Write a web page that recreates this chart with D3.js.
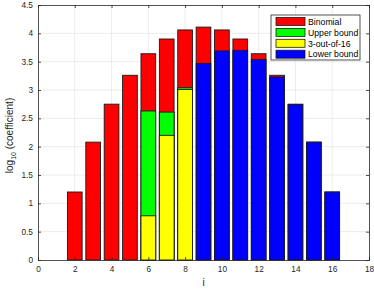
<!DOCTYPE html>
<html><head><meta charset="utf-8">
<script src="https://cdn.jsdelivr.net/npm/d3@7"></script>
<style>body{margin:0;background:#fff}svg{display:block}text{font-family:"Liberation Sans",Arial,sans-serif}</style>
</head><body>
<script>
const categories = [2,3,4,5,6,7,8,9,10,11,12,13,14,15,16];
const binomial   = [1.20,2.08,2.75,3.26,3.64,3.90,4.06,4.11,4.06,3.90,3.64,3.26,2.75,2.08,1.20];
const upperBound = [null,null,null,null,2.63,2.61,3.04,null,null,null,null,null,null,null,null];
const threeOf16  = [null,null,null,null,0.78,2.20,3.01,null,null,null,null,null,null,null,null];
const lowerBound = [null,null,null,null,null,null,null,3.47,3.69,3.70,3.54,3.23,2.74,2.08,1.20];
const series = [
  {name:"Binomial", color:"#ff0000", values:binomial},
  {name:"Upper bound", color:"#00ff00", values:upperBound},
  {name:"3-out-of-16", color:"#ffff00", values:threeOf16},
  {name:"Lower bound", color:"#0000ff", values:lowerBound}
];
const xTicks = [0,2,4,6,8,10,12,14,16,18];
const yTicks = [0,0.5,1,1.5,2,2.5,3,3.5,4,4.5];

const W=374,H=291;
const m={l:38,r:5,t:5,b:31};
const svg=d3.select("body").append("svg").attr("width",W).attr("height",H);
const x=d3.scaleLinear().domain([0,18]).range([m.l,W-m.r]);
const y=d3.scaleLinear().domain([0,4.5]).range([H-m.b,m.t]);
const bw=x(0.8)-x(0);

// grid
svg.append("g").selectAll("line").data(xTicks.slice(1,-1)).join("line")
 .attr("x1",d=>x(d)).attr("x2",d=>x(d)).attr("y1",y(0)).attr("y2",y(4.5))
 .attr("stroke","#e6e6e6").attr("stroke-width",0.8);
svg.append("g").selectAll("line").data(yTicks.slice(1,-1)).join("line")
 .attr("y1",d=>y(d)).attr("y2",d=>y(d)).attr("x1",x(0)).attr("x2",x(18))
 .attr("stroke","#e6e6e6").attr("stroke-width",0.8);

// bars
series.forEach(s=>{
  svg.append("g").selectAll("rect")
   .data(categories.map((c,i)=>({c,v:s.values[i]})).filter(d=>d.v!=null))
   .join("rect")
   .attr("x",d=>x(d.c)-bw/2).attr("width",bw)
   .attr("y",d=>y(d.v)).attr("height",d=>y(0)-y(d.v))
   .attr("fill",s.color).attr("stroke","#1a1a1a").attr("stroke-width",0.9);
});

// axes
const xa=svg.append("g").attr("transform",`translate(0,${y(0)})`)
 .call(d3.axisBottom(x).tickValues(xTicks).tickSize(-3).tickPadding(6));
const ya=svg.append("g").attr("transform",`translate(${x(0)},0)`)
 .call(d3.axisLeft(y).tickValues(yTicks).tickSize(-3).tickPadding(5).tickFormat(d3.format("")));
const xt=svg.append("g").attr("transform",`translate(0,${y(4.5)})`)
 .call(d3.axisTop(x).tickValues(xTicks).tickSize(-3).tickFormat(""));
const yr=svg.append("g").attr("transform",`translate(${x(18)},0)`)
 .call(d3.axisRight(y).tickValues(yTicks).tickSize(-3).tickFormat(""));
[xa,ya,xt,yr].forEach(g=>{
  g.select(".domain").attr("stroke","#262626").attr("stroke-width",0.8);
  g.selectAll(".tick line").attr("stroke","#262626").attr("stroke-width",0.8);
  g.selectAll("text").attr("fill","#262626").style("font-size","8.3px");
});

// labels
svg.append("text").attr("x",x(9)).attr("y",286).attr("text-anchor","middle")
 .attr("fill","#262626").style("font-size","10px").text("i");
const yl=svg.append("text").attr("transform",`translate(13,${(y(0)+y(4.5))/2+3}) rotate(-90)`)
 .attr("text-anchor","middle").attr("fill","#262626").style("font-size","10px");
yl.append("tspan").text("log");
yl.append("tspan").attr("dy",3).style("font-size","7px").text("10");
yl.append("tspan").attr("dy",-3).text(" (coefficient)");

// legend
const lg=svg.append("g").attr("transform","translate(271,15)");
lg.append("rect").attr("width",89).attr("height",45).attr("fill","#fff").attr("stroke","#262626").attr("stroke-width",0.8);
series.forEach((s,i)=>{
  const gy=6.5+i*10.9;
  lg.append("rect").attr("x",5).attr("y",gy-4).attr("width",29).attr("height",8)
   .attr("fill",s.color).attr("stroke","#1a1a1a").attr("stroke-width",0.8);
  lg.append("text").attr("x",37).attr("y",gy+3.2).attr("fill","#000").style("font-size","8.7px").text(s.name);
});
</script>
</body></html>
